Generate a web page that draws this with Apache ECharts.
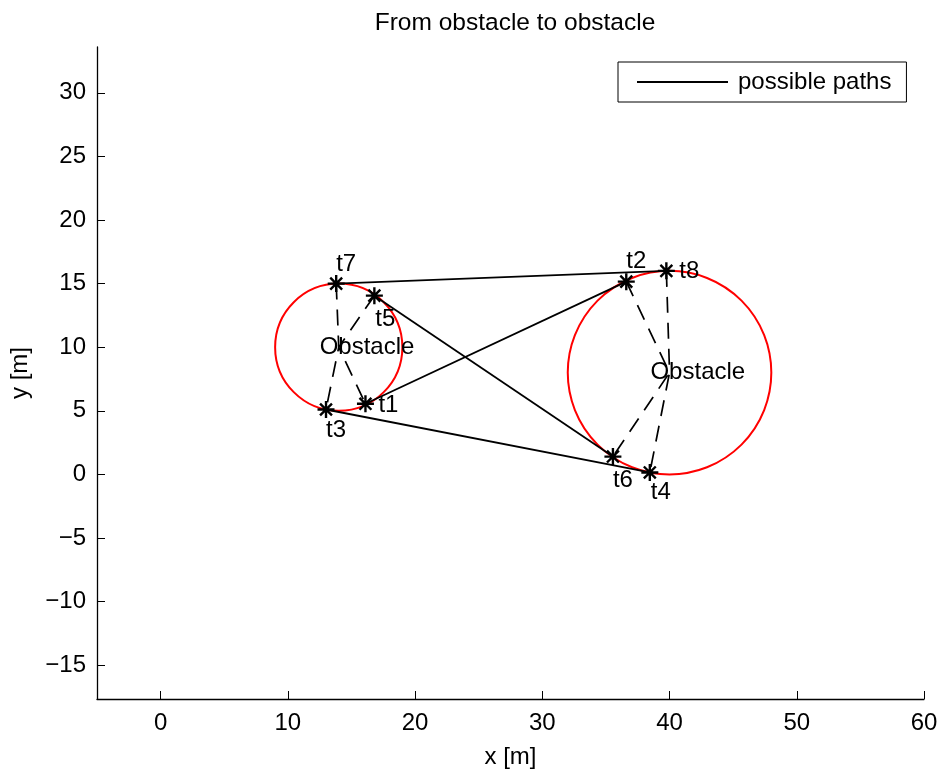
<!DOCTYPE html>
<html>
<head>
<meta charset="utf-8">
<script src="https://cdn.jsdelivr.net/npm/echarts@6/dist/echarts.min.js"></script>
<style>
  html, body { margin: 0; padding: 0; background: #fff; }
  #main { width: 943px; height: 770px; }
</style>
</head>
<body>
<div id="main"></div>
<script>
// tangent points
var tangentNames = ['t1', 't2', 't3', 't4', 't5', 't6', 't7', 't8'];
var tangentX = [16.1, 36.6, 13.0, 38.45, 16.8, 35.55, 13.8, 39.75];
var tangentY = [5.55, 15.15, 5.1, 0.15, 14.05, 1.4, 15.0, 16.0];

// obstacles: centre and radius
var obstacleX = [14, 40];
var obstacleY = [10, 8];
var obstacleR = [5, 8];

// straight tangent segments (solid)
var possiblePaths = [['t7', 't8'], ['t1', 't2'], ['t5', 't6'], ['t3', 't4']];
// dashed links through an obstacle centre: [from, to, obstacle index]
var arcLinks = [['t7', 't3', 0], ['t5', 't1', 0], ['t2', 't6', 1], ['t8', 't4', 1]];

var xTicks = [0, 10, 20, 30, 40, 50, 60];
var yTicks = [-15, -10, -5, 0, 5, 10, 15, 20, 25, 30];

// label offsets for the tangent point texts
var labelOffsets = {
  t1: [23, 2], t2: [10, -20], t3: [10, 21], t4: [11, 20],
  t5: [11, 24], t6: [10, 24], t7: [10, -19], t8: [23, 1]
};

var FONT = "'Liberation Sans', Arial, Helvetica, sans-serif";
var asterisk = 'path://M43 0L57 0L57 100L43 100Z M0 43L100 43L100 57L0 57Z ' +
  'M20 10L90 80L80 90L10 20Z M80 10L90 20L20 90L10 80Z';

function pt(name) {
  var i = tangentNames.indexOf(name);
  return [tangentX[i], tangentY[i]];
}

var series = [];

// obstacles as red circles with a text
series.push({
  type: 'custom',
  silent: true,
  z: 1,
  data: obstacleX.map(function (x, i) { return [x, obstacleY[i], obstacleR[i]]; }),
  renderItem: function (params, api) {
    var c = api.coord([api.value(0), api.value(1)]);
    var r = api.size([api.value(2), 0])[0];
    var t = api.coord([api.value(0) - 1.5, api.value(1)]);
    return {
      type: 'group',
      children: [{
        type: 'circle',
        shape: { cx: c[0], cy: c[1], r: r },
        style: { fill: 'none', stroke: '#ff0000', lineWidth: 2 }
      }, {
        type: 'text',
        x: t[0], y: t[1],
        style: {
          text: 'Obstacle', fill: '#000', font: '24px ' + FONT,
          align: 'left', verticalAlign: 'middle'
        }
      }]
    };
  }
});

possiblePaths.forEach(function (p) {
  series.push({
    name: 'possible paths',
    type: 'line',
    data: [pt(p[0]), pt(p[1])],
    showSymbol: false,
    silent: true,
    z: 3,
    itemStyle: { color: '#000' },
    lineStyle: { color: '#000', width: 1.8 }
  });
});

arcLinks.forEach(function (a) {
  var k = a[2];
  series.push({
    name: 'arc',
    type: 'line',
    data: [pt(a[0]), [obstacleX[k], obstacleY[k]], pt(a[1])],
    showSymbol: false,
    silent: true,
    z: 2,
    lineStyle: { color: '#000', width: 1.7, type: [16, 10] }
  });
});

series.push({
  name: 'tangent points',
  type: 'scatter',
  symbol: asterisk,
  symbolSize: 17,
  silent: true,
  z: 5,
  itemStyle: { color: '#000', opacity: 1 },
  data: tangentNames.map(function (n, i) {
    return {
      name: n,
      value: [tangentX[i], tangentY[i]],
      label: { offset: labelOffsets[n] }
    };
  }),
  label: {
    show: true,
    position: 'inside',
    formatter: '{b}',
    color: '#000',
    textBorderWidth: 0,
    fontSize: 24,
    fontFamily: FONT
  }
});

var axisText = { color: '#000', fontSize: 24, fontFamily: FONT };

var option = {
  animation: false,
  backgroundColor: '#fff',
  title: {
    text: 'From obstacle to obstacle',
    left: 510, top: 6, textAlign: 'center',
    textStyle: { color: '#000', fontSize: 24.5, fontWeight: 'normal', fontFamily: FONT }
  },
  legend: {
    data: ['possible paths'],
    left: 618, top: 62,
    padding: [8, 15, 8, 19],
    borderColor: '#000', borderWidth: 1,
    icon: 'rect', itemWidth: 91, itemHeight: 2,
    itemStyle: { color: '#000' },
    textStyle: { color: '#000', fontSize: 24, fontFamily: FONT, padding: [0, 0, 0, 5] }
  },
  grid: { left: 97, right: 19, top: 47, bottom: 71, containLabel: false, outerBoundsMode: 'none' },
  xAxis: {
    type: 'value',
    min: -5, max: 60,
    name: 'x [m]', nameLocation: 'middle', nameGap: 46,
    nameTextStyle: axisText,
    axisLine: { onZero: false, lineStyle: { color: '#000', width: 1.3 } },
    axisTick: { inside: true, length: 8, customValues: xTicks, lineStyle: { color: '#000' } },
    axisLabel: Object.assign({ customValues: xTicks, margin: 12 }, axisText),
    splitLine: { show: false }
  },
  yAxis: {
    type: 'value',
    min: -17.66, max: 33.6,
    name: 'y [m]', nameLocation: 'middle', nameGap: 65, nameRotate: 90,
    nameTextStyle: axisText,
    axisLine: { onZero: false, lineStyle: { color: '#000', width: 1.3 } },
    axisTick: { inside: true, length: 8, customValues: yTicks, lineStyle: { color: '#000' } },
    axisLabel: Object.assign({
      customValues: yTicks, margin: 11,
      formatter: function (v) { return String(v).replace('-', '\u2212'); }
    }, axisText),
    splitLine: { show: false }
  },
  series: series
};

var myChart = echarts.init(document.getElementById('main'));
myChart.setOption(option);
</script>
</body>
</html>
